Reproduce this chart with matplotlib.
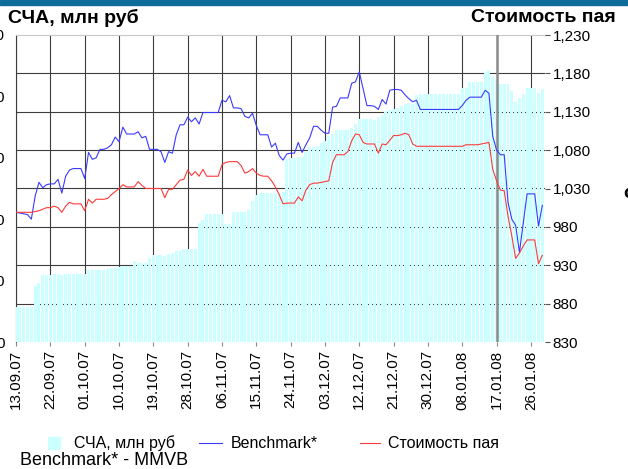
import matplotlib
matplotlib.use("Agg")
import matplotlib.pyplot as plt
from matplotlib.lines import Line2D
from matplotlib.patches import Rectangle
from matplotlib.ticker import FuncFormatter
import numpy as np

plt.rcParams['font.family'] = ['Liberation Sans', 'DejaVu Sans']

# daily categories 13.09.07 .. 29.01.08, labels every 9 days
tick_labels = ['13.09.07', '22.09.07', '01.10.07', '10.10.07', '19.10.07', '28.10.07',
               '06.11.07', '15.11.07', '24.11.07', '03.12.07', '12.12.07', '21.12.07',
               '30.12.07', '08.01.08', '17.01.08', '26.01.08']

# СЧА, млн руб (left axis)
scha = [113, 113, 113, 113, 113, 182, 191, 218, 218, 218,
        222, 222, 218, 222, 223, 223, 222, 223, 223, 236,
        236, 236, 236, 236, 238, 241, 241, 243, 246, 247,
        248, 264, 258, 258, 257, 274, 283, 283, 283, 280,
        288, 290, 296, 296, 304, 304, 304, 304, 388, 396,
        417, 417, 417, 417, 417, 385, 385, 422, 422, 422,
        425, 431, 458, 478, 485, 485, 485, 485, 485, 485,
        488, 596, 599, 599, 602, 604, 620, 635, 635, 640,
        648, 656, 672, 678, 689, 689, 689, 689, 697, 711,
        726, 726, 726, 726, 722, 732, 740, 751, 755, 759,
        763, 769, 776, 778, 775, 806, 807, 807, 807, 807,
        807, 807, 807, 807, 807, 807, 807, 826, 826, 848,
        848, 848, 848, 875, 886, 865, 856, 841, 841, 841,
        816, 783, 794, 808, 826, 826, 826, 810, 824]

# Benchmark* (right axis)
benchmark = [999, 998, 997, 996, 990, 1020, 1038, 1031, 1035, 1036,
             1036, 1042, 1024, 1046, 1054, 1056, 1056, 1056, 1043, 1077,
             1068, 1070, 1081, 1081, 1083, 1087, 1097, 1091, 1110, 1101,
             1101, 1101, 1104, 1096, 1098, 1081, 1081, 1081, 1078, 1064,
             1078, 1076, 1100, 1113, 1113, 1123, 1117, 1122, 1114, 1129,
             1129, 1129, 1129, 1129, 1145, 1143, 1151, 1135, 1135, 1134,
             1124, 1122, 1128, 1112, 1100, 1100, 1100, 1084, 1089, 1073,
             1067, 1075, 1076, 1076, 1090, 1077, 1087, 1096, 1111, 1111,
             1106, 1102, 1102, 1136, 1137, 1148, 1148, 1148, 1167, 1169,
             1182, 1160, 1138, 1138, 1137, 1133, 1146, 1140, 1158, 1159,
             1159, 1158, 1152, 1147, 1143, 1145, 1133, 1133, 1133, 1133,
             1133, 1133, 1133, 1133, 1133, 1133, 1133, 1138, 1145, 1149,
             1149, 1149, 1149, 1158, 1154, 1098, 1080, 1074, 1074, 1012,
             990, 982, 947, 985, 1023, 1023, 1023, 981, 1008]

# Стоимость пая (right axis)
pai = [999, 999, 999, 999, 999, 1000, 1001, 1003, 1005, 1005,
       1007, 1005, 999, 1007, 1012, 1010, 1010, 1010, 1001, 1016,
       1011, 1016, 1016, 1016, 1017, 1022, 1026, 1030, 1035, 1032,
       1032, 1032, 1039, 1034, 1030, 1030, 1030, 1030, 1030, 1018,
       1029, 1029, 1035, 1041, 1042, 1054, 1047, 1052, 1046, 1055,
       1046, 1046, 1046, 1046, 1061, 1064, 1065, 1065, 1065, 1060,
       1050, 1052, 1056, 1050, 1047, 1046, 1046, 1040, 1032, 1022,
       1010, 1011, 1011, 1011, 1019, 1014, 1028, 1035, 1037, 1037,
       1038, 1039, 1040, 1064, 1074, 1074, 1074, 1078, 1092, 1101,
       1100, 1090, 1088, 1088, 1088, 1076, 1088, 1087, 1093, 1099,
       1099, 1100, 1102, 1100, 1088, 1085, 1085, 1085, 1085, 1085,
       1085, 1085, 1085, 1085, 1085, 1085, 1085, 1085, 1087, 1087,
       1087, 1087, 1088, 1089, 1090, 1055, 1040, 1028, 1027, 994,
       968, 939, 946, 955, 963, 963, 963, 932, 943]

W, H = 628, 469
fig = plt.figure(figsize=(W / 100, H / 100), dpi=100)

# top banner
fig.patches.append(Rectangle((0, 1 - 5 / H), 1, 5 / H, transform=fig.transFigure,
                             color='#0e6b9a', zorder=0))

ax = fig.add_axes([16 / W, 127 / H, 529 / W, 307 / H])
x = np.arange(len(scha))
ax.bar(x, scha, width=0.78, color='#ccffff', zorder=2)
ax.axvline(126, color='#8c8c8c', lw=1.8, zorder=3)
ax.set_xlim(-0.02, 138.7)
ax.set_ylim(0, 1000)
ax.set_yticks(np.arange(0, 1001, 200))
# horizontal grid follows the right-hand scale (every 50 -> 125 on the left)
ax.set_yticks(np.arange(0, 1000, 125), minor=True)
ax.tick_params(axis='y', which='minor', length=0)
ax.tick_params(axis='y', which='major', length=0, pad=8, labelsize=11)
ax.yaxis.grid(True, which='minor', color='#3c3c3c', lw=0.8)
ax.set_xticks(np.arange(0, 136, 9))
ax.set_xticklabels(tick_labels, rotation=90, fontsize=11)
ax.tick_params(axis='x', length=3, pad=3, colors='#888888', labelcolor='black')
ax.xaxis.grid(True, color='#3c3c3c', lw=0.8)
ax.set_axisbelow(True)
for s in ['bottom', 'right']:
    ax.spines[s].set_visible(False)
ax.spines['left'].set_color('#3c3c3c')
ax.spines['left'].set_zorder(0.5)
ax.spines['top'].set_color('#c8c8c8')

ax2 = ax.twinx()
ax2.plot(x, benchmark, color='#3a3aff', lw=0.8)
ax2.plot(x, pai, color='#ff3a3a', lw=0.8)
ax2.set_ylim(830, 1230)
ax2.set_yticks(range(830, 1231, 50))
ax2.yaxis.set_major_formatter(FuncFormatter(lambda v, p: f'{int(v):,}'))
ax2.tick_params(axis='y', length=3.5, pad=2, labelsize=11, colors='#555555', labelcolor='black')
for s in ax2.spines.values():
    s.set_visible(False)

# titles
fig.text(8 / W, 1 - 18 / H, 'СЧА, млн руб', fontsize=14, fontweight='bold', va='center')
fig.text(616 / W, 1 - 18 / H, 'Стоимость пая', fontsize=14, fontweight='bold',
         va='center', ha='right')
fig.text(623 / W, 1 - 194 / H, 'с', fontsize=14, fontweight='bold', va='center')

# legend
ly = 1 - 443 / H
fig.patches.append(Rectangle((48 / W, 1 - 449 / H), 12 / W, 12 / H,
                             transform=fig.transFigure, color='#ccffff'))
fig.text(74 / W, ly, 'СЧА, млн руб', fontsize=11.5, va='center')
fig.add_artist(Line2D([199 / W, 222 / W], [ly, ly], color='#3a3aff', lw=0.8))
fig.text(231 / W, ly, 'Benchmark*', fontsize=11.5, va='center')
fig.add_artist(Line2D([360 / W, 380 / W], [ly, ly], color='#ff3a3a', lw=0.8))
fig.text(388 / W, ly, 'Стоимость пая', fontsize=11.5, va='center')
fig.text(20 / W, 1 - 460 / H, 'Benchmark* - MMVB', fontsize=13, va='center')

fig.savefig('out.png', dpi=100)
